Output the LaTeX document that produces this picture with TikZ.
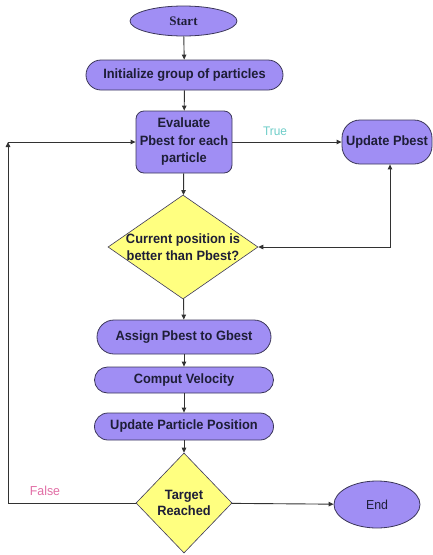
\documentclass[tikz,border=0pt]{standalone}
\usepackage{fontspec}
\setmainfont{Liberation Sans}[FakeStretch=0.95]
\newfontfamily\serifbold{Liberation Serif}[Scale=1]
\usetikzlibrary{shapes.geometric,arrows.meta}
\definecolor{pfill}{RGB}{160,142,244}
\definecolor{pdraw}{RGB}{60,55,90}
\definecolor{yfill}{RGB}{255,255,128}
\definecolor{txt}{RGB}{30,30,55}
\definecolor{truec}{RGB}{110,205,200}
\definecolor{falsec}{RGB}{225,110,165}
\definecolor{lnc}{RGB}{50,50,50}
\begin{document}
\begin{tikzpicture}[x=1pt,y=1pt,
  base/.style={draw=pdraw,line width=0.8pt,text=txt,font=\fontsize{13.5}{17.5}\selectfont\bfseries,align=center,inner sep=0pt},
  pill/.style={base,fill=pfill,rectangle,rounded corners=#1},
  oval/.style={base,fill=pfill,ellipse},
  dia/.style={base,fill=yfill,diamond,line width=0.6pt},
  label/.style={text=txt,font=\fontsize{13.5}{16.5}\selectfont\bfseries,align=center,inner sep=0pt},
  conn/.style={draw=lnc,line width=0.9pt,-{Triangle[length=5pt,width=4.5pt]}},
  both/.style={draw=lnc,line width=0.9pt,{Triangle[length=5pt,width=4.5pt]}-{Triangle[length=5pt,width=4.5pt]}}]
\useasboundingbox (0,0) rectangle (433,-555);
\node[oval,minimum width=107,minimum height=30,font=\fontsize{13}{15}\selectfont\serifbold\bfseries] (start) at (183.5,-21) {Start};
\node[pill=15pt,minimum width=197,minimum height=30] (init) at (184.5,-75) {Initialize group of particles};
\node[pill=8pt,minimum width=96,minimum height=62] (eval) at (184,-142) {Evaluate\\Pbest for each\\particle};
\node[pill=18pt,minimum width=90,minimum height=44] (upd) at (387,-142) {Update Pbest};
\node[dia,minimum width=150,minimum height=104] (d1) at (183,-247) {};
\node[label] (d1t) at (d1.center) {Current position is\\better than Pbest?};
\node[pill=17pt,minimum width=174,minimum height=34] (assign) at (184,-337) {Assign Pbest to Gbest};
\node[pill=13pt,minimum width=179,minimum height=26] (comp) at (184,-380) {Comput Velocity};
\node[pill=13.5pt,minimum width=179,minimum height=27] (updpos) at (184,-426.5) {Update Particle Position};
\node[dia,minimum width=96,minimum height=100] (d2) at (184,-503) {};
\node[label] (d2t) at (d2.center) {Target\\Reached};
\node[oval,minimum width=86,minimum height=47,font=\fontsize{13}{15}\selectfont] (end) at (377,-504.5) {End};
\node[text=truec,font=\fontsize{12.5}{14}\selectfont] (tl) at (275,-131) {True};
\node[text=falsec,font=\fontsize{13}{15}\selectfont] (fl) at (45,-491) {False};
\coordinate (lc) at (8,-142);
\coordinate (uc) at (390,-247);
\draw[conn] (start) -- (init);
\draw[conn] (init) -- (eval);
\draw[conn] (eval) -- (upd);
\draw[conn] (eval) -- (d1);
\draw[both] (upd.south -| uc) -- (uc) -- (d1.east);
\draw[conn] (d1) -- (assign);
\draw[conn] (assign) -- (comp);
\draw[conn] (comp) -- (updpos);
\draw[conn] (updpos) -- (d2);
\draw[conn] (d2) -- (end);
\draw[conn] (d2.west) -| (lc);
\draw[conn] (lc) -- (eval.west);
\end{tikzpicture}
\end{document}
